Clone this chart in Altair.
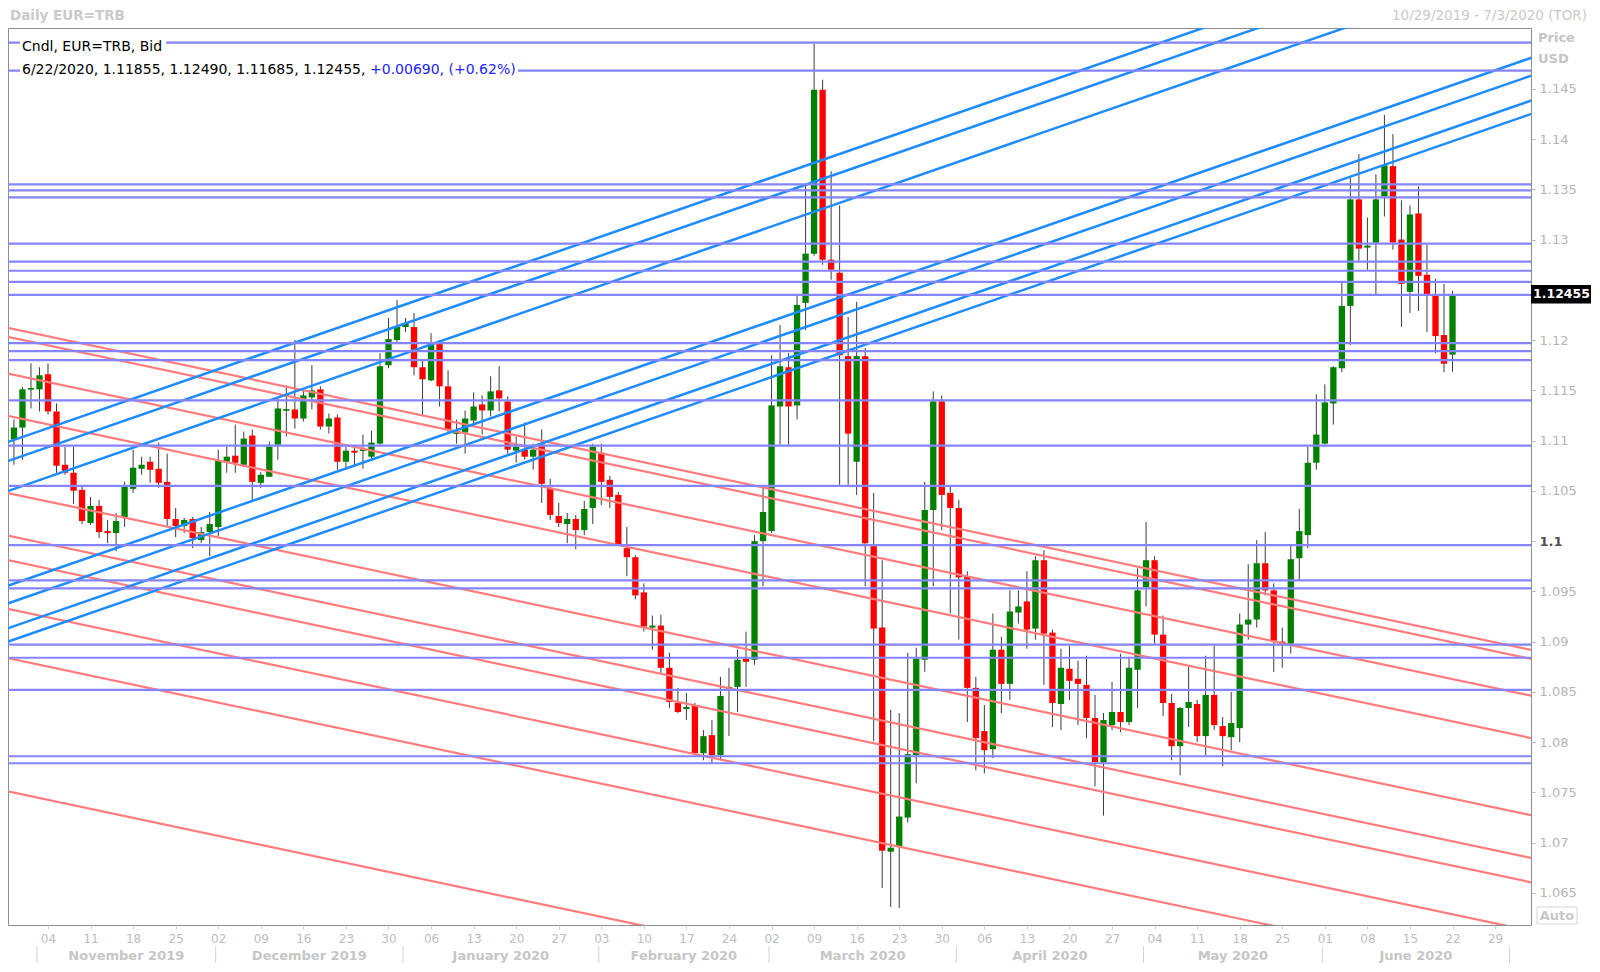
import altair as alt
import pandas as pd
import numpy as np

# ---------------- data ----------------
opens = [1.1101,1.1113,1.1151,1.1151,1.1166,1.1129,1.1076,1.1068,1.1051,1.1018,
1.1035,1.1010,1.1008,1.1024,1.1052,1.1072,1.1079,1.1072,1.1059,1.1022,
1.1015,1.1022,1.1001,1.1009,1.1014,1.1079,1.1085,1.1076,1.1105,1.1058,
1.1064,1.1096,1.1130,1.1131,1.1122,1.1143,1.1151,1.1114,1.1123,1.1079,
1.1090,1.1090,1.1084,1.1097,1.1175,1.1200,1.1213,1.1213,1.1173,1.1160,
1.1197,1.1154,1.1107,1.1108,1.1120,1.1136,1.1130,1.1150,1.1139,1.1090,
1.1091,1.1084,1.1096,1.1053,1.1025,1.1017,1.1022,1.1011,1.1033,1.1088,
1.1061,1.1046,1.0993,1.0984,1.0949,1.0914,1.0916,1.0874,1.0839,1.0833,
1.0836,1.0789,1.0807,1.0787,1.0853,1.0855,1.0883,1.0882,1.1000,1.1010,
1.1134,1.1173,1.1135,1.1237,1.1286,1.1449,1.1280,1.1267,1.1184,1.1079,
1.1184,1.0995,1.0914,1.0691,1.0696,1.0725,1.0787,1.0882,1.1031,1.1139,
1.1048,1.1033,1.0965,1.0854,1.0811,1.0793,1.0892,1.0858,1.0929,1.0940,
1.0913,1.0981,1.0909,1.0838,1.0873,1.0863,1.0857,1.0824,1.0780,1.0817,
1.0830,1.0820,1.0872,1.0954,1.0981,1.0907,1.0839,1.0796,1.0834,1.0838,
1.0806,1.0847,1.0816,1.0805,1.0814,1.0917,1.0922,1.0978,1.0951,1.0900,
1.0898,1.0983,1.1006,1.1078,1.1097,1.1137,1.1172,1.1234,1.1340,1.1292,
1.1297,1.1343,1.1373,1.1300,1.1248,1.1326,1.1265,1.1245,1.1205,1.11855]

highs = [1.1121,1.1153,1.1177,1.1173,1.1177,1.1137,1.1094,1.1094,1.1054,1.1044,
1.1041,1.1021,1.1028,1.1059,1.1091,1.1084,1.1084,1.1098,1.1087,1.1033,
1.1023,1.1024,1.1014,1.1029,1.1091,1.1094,1.1116,1.1109,1.1111,1.1069,
1.1099,1.1142,1.1155,1.1200,1.1150,1.1175,1.1154,1.1127,1.1126,1.1094,
1.1096,1.1106,1.1110,1.1187,1.1222,1.1240,1.1222,1.1227,1.1180,1.1207,
1.1200,1.1170,1.1121,1.1130,1.1148,1.1145,1.1164,1.1174,1.1144,1.1104,
1.1118,1.1097,1.1111,1.1062,1.1038,1.1028,1.1026,1.1040,1.1097,1.1097,
1.1065,1.1049,1.1014,1.0986,1.0958,1.0926,1.0927,1.0889,1.0854,1.0849,
1.0839,1.0812,1.0822,1.0865,1.0874,1.0892,1.0910,1.1006,1.1054,1.1185,
1.1215,1.1187,1.1246,1.1354,1.1495,1.1459,1.1368,1.1334,1.1223,1.1238,
1.1192,1.1048,1.0981,1.0832,1.0829,1.0889,1.0894,1.1059,1.1149,1.1145,
1.1054,1.1041,1.0970,1.0865,1.0837,1.0928,1.0905,1.0951,1.0951,1.0970,
1.0985,1.0991,1.0912,1.0893,1.0896,1.0881,1.0886,1.0847,1.0829,1.0860,
1.0888,1.0885,1.0973,1.1019,1.0985,1.0926,1.0848,1.0835,1.0875,1.0842,
1.0886,1.0896,1.0825,1.0850,1.0928,1.0977,1.1001,1.1009,1.0958,1.0914,
1.0996,1.1032,1.1094,1.1146,1.1156,1.1174,1.1257,1.1363,1.1385,1.1322,
1.1365,1.1424,1.1405,1.1339,1.1334,1.1353,1.1295,1.1261,1.1256,1.12490]

lows = [1.1076,1.1081,1.1132,1.1129,1.1126,1.1068,1.1066,1.1037,1.1017,1.1016,
1.1003,1.0998,1.0990,1.1014,1.1048,1.1066,1.1058,1.1053,1.1014,1.1004,
1.1008,1.0993,1.0998,1.0985,1.1005,1.1068,1.1068,1.1074,1.1041,1.1053,
1.1064,1.1081,1.1104,1.1112,1.1119,1.1131,1.1111,1.1107,1.1071,1.1071,
1.1074,1.1072,1.1082,1.1096,1.1172,1.1198,1.1208,1.1165,1.1126,1.1159,
1.1134,1.1107,1.1097,1.1087,1.1116,1.1106,1.1124,1.1129,1.1087,1.1078,
1.1081,1.1071,1.1038,1.1021,1.1014,1.0998,1.0992,1.1006,1.1017,1.1036,
1.1033,1.0995,1.0965,1.0942,1.0910,1.0892,1.0869,1.0834,1.0829,1.0822,
1.0787,1.0782,1.0779,1.0782,1.0806,1.0830,1.0855,1.0877,1.0955,1.1008,
1.1096,1.1096,1.1121,1.1210,1.1284,1.1275,1.1260,1.1056,1.1056,1.1046,
1.0955,1.0801,1.0655,1.0636,1.0635,1.0720,1.0759,1.0870,1.0955,1.1011,
1.0928,1.0902,1.0820,1.0772,1.0769,1.0784,1.0829,1.0842,1.0918,1.0893,
1.0902,1.0857,1.0815,1.0812,1.0842,1.0817,1.0804,1.0756,1.0727,1.0812,
1.0810,1.0817,1.0834,1.0935,1.0898,1.0826,1.0782,1.0767,1.0815,1.0800,
1.0787,1.0812,1.0776,1.0792,1.0800,1.0902,1.0914,1.0946,1.0870,1.0874,
1.0888,1.0961,1.0993,1.1071,1.1096,1.1116,1.1168,1.1195,1.1279,1.1270,
1.1244,1.1323,1.1290,1.1213,1.1227,1.1229,1.1208,1.1187,1.1168,1.11685]

closes = [1.1113,1.1151,1.1152,1.1165,1.1129,1.1075,1.1068,1.1050,1.1020,1.1035,
1.1009,1.1008,1.1020,1.1054,1.1073,1.1076,1.1071,1.1058,1.1022,1.1015,
1.1021,1.1003,1.1009,1.1017,1.1080,1.1084,1.1078,1.1102,1.1059,1.1066,
1.1094,1.1132,1.1131,1.1122,1.1145,1.1150,1.1114,1.1122,1.1079,1.1090,
1.1088,1.1091,1.1098,1.1174,1.1201,1.1213,1.1217,1.1173,1.1161,1.1197,
1.1154,1.1111,1.1108,1.1122,1.1134,1.1130,1.1149,1.1142,1.1091,1.1094,
1.1084,1.1091,1.1057,1.1026,1.1018,1.1022,1.1011,1.1032,1.1094,1.1059,
1.1044,1.0996,1.0984,1.0946,1.0915,1.0916,1.0874,1.0840,1.0830,1.0835,
1.0789,1.0806,1.0787,1.0846,1.0855,1.0882,1.0880,1.1000,1.1029,1.1135,
1.1174,1.1134,1.1235,1.1286,1.1449,1.1280,1.1270,1.1185,1.1107,1.1184,
1.0998,1.0913,1.0692,1.0695,1.0726,1.0788,1.0883,1.1031,1.1139,1.1046,
1.1033,1.0964,1.0854,1.0804,1.0792,1.0892,1.0858,1.0930,1.0935,1.0912,
1.0981,1.0908,1.0839,1.0874,1.0861,1.0858,1.0824,1.0780,1.0822,1.0830,
1.0820,1.0874,1.0951,1.0981,1.0907,1.0839,1.0796,1.0834,1.0840,1.0806,
1.0847,1.0817,1.0806,1.0819,1.0917,1.0922,1.0978,1.0951,1.0901,1.0898,
1.0982,1.1010,1.1078,1.1106,1.1138,1.1173,1.1234,1.1340,1.1291,1.1294,
1.1340,1.1374,1.1297,1.1256,1.1325,1.1264,1.1244,1.1204,1.11765,1.12455]

# horizontal support / resistance levels
h_levels = [1.1496, 1.1468, 1.1355, 1.1349, 1.1342, 1.1296, 1.1278, 1.1269, 1.1258, 1.1245,
            1.1197, 1.1189, 1.1180, 1.1140, 1.1095, 1.1055, 1.0996, 1.0961, 1.0953, 1.0897,
            1.0884, 1.0852, 1.0786, 1.0779]

# diagonal trend lines: price at trading-day index -1 and at index 179
line_x_start = -1
line_x_end = 179
blue_start = [1.10977, 1.10788, 1.10490, 1.09549, 1.09372, 1.09124, 1.08991]
blue_end = [1.16258, 1.16069, 1.15771, 1.14830, 1.14653, 1.14405, 1.14272]
red_start = [1.12128, 1.12038, 1.11672, 1.11251, 1.10484, 1.10059, 1.09816, 1.09332, 1.08841, 1.07516]
red_end = [1.08904, 1.08814, 1.08448, 1.08027, 1.07260, 1.06835, 1.06592, 1.06108, 1.05617, 1.04292]

# axis labels
week_labels = ["04", "11", "18", "25", "02", "09", "16", "23", "30", "06", "13", "20", "27",
               "03", "10", "17", "24", "02", "09", "16", "23", "30", "06", "13", "20", "27",
               "04", "11", "18", "25", "01", "08", "15", "22", "29"]
week_pos = [4 + 5 * k for k in range(len(week_labels))]   # Mondays (trading-day index)
month_names = ["November 2019", "December 2019", "January 2020", "February 2020",
               "March 2020", "April 2020", "May 2020", "June 2020"]
month_first = [3, 24, 46, 69, 89, 111, 133, 154, 176]     # first trading day of each month
# price labels (1.125 is hidden under the last-price tag in the reference)
y_ticks = [1.065, 1.07, 1.075, 1.08, 1.085, 1.09, 1.095, 1.1, 1.105, 1.11, 1.115,
           1.12, 1.13, 1.135, 1.14, 1.145]

# ---------------- layout ----------------
W, H = 1523, 897
xs = alt.Scale(domain=[-0.699, 178.22], nice=False, zero=False)
ys = alt.Scale(domain=[1.06181, 1.15105], nice=False, zero=False)
FONT = "DejaVu Sans"

n = len(opens)
df = pd.DataFrame({"i": np.arange(n), "open": opens, "high": highs, "low": lows, "close": closes})
df["dir"] = np.where(df["close"] >= df["open"], "up", "down")
df["top"] = df[["open", "close"]].max(axis=1)
df["bot"] = df[["open", "close"]].min(axis=1)
thin = (df["top"] - df["bot"]) < 0.00016
mid = (df["top"] + df["bot"]) / 2
df.loc[thin, "top"] = mid[thin] + 0.00008
df.loc[thin, "bot"] = mid[thin] - 0.00008
df["xl"] = df["i"] - 0.37
df["xr"] = df["i"] + 0.37

label_expr = "[" + ",".join("'%s'" % s for s in week_labels) + "][round((datum.value-4)/5)]"

x_axis = alt.Axis(values=week_pos, labelExpr=label_expr, grid=False, domain=False,
                  tickSize=4, tickColor="#CFCFCF", labelColor="#BDBDBD", labelFont=FONT,
                  labelFontSize=12, labelPadding=4, title=None, labelFlush=False,
                  labelOverlap=False)
y_axis = alt.Axis(orient="right", values=y_ticks, format=".3~f", grid=False, domain=False,
                  tickSize=4, tickColor="#B8B8B8",
                  labelColor={"condition": {"test": "abs(datum.value-1.1)<0.0001", "value": "#505050"}, "value": "#B5B5B5"},
                  labelFontWeight={"condition": {"test": "abs(datum.value-1.1)<0.0001", "value": "bold"}, "value": "normal"},
                  labelFont=FONT, labelFontSize=13, labelPadding=4, title=None,
                  labelFlush=False, labelOverlap=False)


def X(field):
    return alt.X(field, scale=xs, axis=x_axis)


def Y(field):
    return alt.Y(field, scale=ys, axis=y_axis)


wicks = alt.Chart(df).mark_rule(color="#3C3C3C", strokeWidth=1).encode(
    x=X("i:Q"), y=Y("low:Q"), y2="high:Q",
)
bodies = alt.Chart(df).mark_rect().encode(
    x=X("xl:Q"), x2="xr:Q",
    y=Y("top:Q"), y2="bot:Q",
    color=alt.Color("dir:N", scale=alt.Scale(domain=["up", "down"], range=["#008000", "#FF0000"]), legend=None),
)

red_df = pd.DataFrame({"x1": line_x_start, "x2": line_x_end, "p1": red_start, "p2": red_end})
blue_df = pd.DataFrame({"x1": line_x_start, "x2": line_x_end, "p1": blue_start, "p2": blue_end})

red_lines = alt.Chart(red_df).mark_rule(color="#FF7C7C", strokeWidth=2.2, clip=True).encode(
    x=X("x1:Q"), x2="x2:Q", y=Y("p1:Q"), y2="p2:Q",
)
blue_lines = alt.Chart(blue_df).mark_rule(color="#1E8CFF", strokeWidth=2.5, clip=True).encode(
    x=X("x1:Q"), x2="x2:Q", y=Y("p1:Q"), y2="p2:Q",
)
h_lines = alt.Chart(pd.DataFrame({"p": h_levels})).mark_rule(color="#8484FF", strokeWidth=2.2).encode(
    y=Y("p:Q"),
)

# month row
bounds = [m - 0.3 for m in month_first]
centers = [(bounds[k] + bounds[k + 1]) / 2 for k in range(len(month_names))]
month_df = pd.DataFrame({"name": month_names, "c": centers})
sep_df = pd.DataFrame({"b": bounds})
month_text = alt.Chart(month_df).mark_text(font=FONT, fontSize=13, fontWeight="bold", color="#C6C6C6",
                                           baseline="middle").encode(
    x=X("c:Q"), y=alt.value(H + 31), text="name:N")
month_sep = alt.Chart(sep_df).mark_rule(color="#D4D4D4", strokeWidth=1).encode(
    x=X("b:Q"), y=alt.value(H + 21), y2=alt.value(H + 38))

# legend inside plot
last = n - 1
chg = closes[last] - closes[last - 1]
line2_black = "6/22/2020, %.5f, %.5f, %.5f, %.5f," % (opens[last], highs[last], lows[last], closes[last])
line2_blue = "+%.5f, (+%.2f%%)" % (chg, chg / closes[last - 1] * 100)


def px_text(text, x, y, **kw):
    return alt.Chart(pd.DataFrame({"t": [text]})).mark_text(font=FONT, baseline="middle", **kw).encode(
        x=alt.value(x), y=alt.value(y), text="t:N")


def px_rect(x1, x2, y1, y2, **kw):
    return alt.Chart(pd.DataFrame({"a": [0]})).mark_rect(**kw).encode(
        x=alt.value(x1), x2=alt.value(x2), y=alt.value(y1), y2=alt.value(y2))


bg1 = px_rect(12, 158, 11, 26, color="white")
bg2 = px_rect(12, 510, 34, 49, color="white")
leg1 = px_text("Cndl, EUR=TRB, Bid", 14, 18.5, fontSize=14, color="black", align="left")
leg2 = px_text(line2_black, 14, 41.5, fontSize=14, color="black", align="left")
leg3 = px_text(line2_blue, 362, 41.5, fontSize=14, color="#2424FF", align="left")

# titles
title_l = px_text("Daily EUR=TRB", 2, -12, fontSize=13.5, fontWeight="bold", color="#CACACA", align="left")
title_r = px_text("10/29/2019 - 7/3/2020 (TOR)", W + 56, -12, fontSize=13.5, color="#CACACA", align="right")
price_lbl = px_text("Price", W + 7, 10, fontSize=13, fontWeight="bold", color="#C4C4C4", align="left")
usd_lbl = px_text("USD", W + 7, 31, fontSize=13, fontWeight="bold", color="#C4C4C4", align="left")

# "Auto" box
auto_box = px_rect(W + 6, W + 46, H - 18, H - 1, fill="white", stroke="#D6D6D6", strokeWidth=1)
auto_txt = px_text("Auto", W + 26, H - 9.5, fontSize=13, fontWeight="bold", color="#C8C8C8", align="center")

# last price tag
tag_df = pd.DataFrame({"p": [closes[last]], "hi": [closes[last] + 0.00092], "lo": [closes[last] - 0.00092],
                       "t": ["%.5f" % closes[last]]})
tag_box = alt.Chart(tag_df).mark_rect(color="black").encode(
    x=alt.value(W), x2=alt.value(W + 60), y=Y("hi:Q"), y2="lo:Q")
tag_txt = alt.Chart(tag_df).mark_text(font=FONT, fontSize=12.5, fontWeight="bold", color="white",
                                      align="left", baseline="middle").encode(
    x=alt.value(W + 2), y=Y("p:Q"), text="t:N")

chart = alt.layer(
    wicks, bodies, red_lines, blue_lines, h_lines,
    bg1, bg2, leg1, leg2, leg3,
    month_sep, month_text, title_l, title_r, price_lbl, usd_lbl, auto_box, auto_txt, tag_box, tag_txt,
).properties(
    width=W, height=H,
    padding={"left": 0, "top": 20, "right": 60, "bottom": 38},
    autosize=alt.AutoSizeParams(type="none"),
    background="white",
).configure_view(stroke="#8E8E8E", strokeWidth=1)

chart.save("out.html", embed_options={"renderer": "svg", "actions": False})
